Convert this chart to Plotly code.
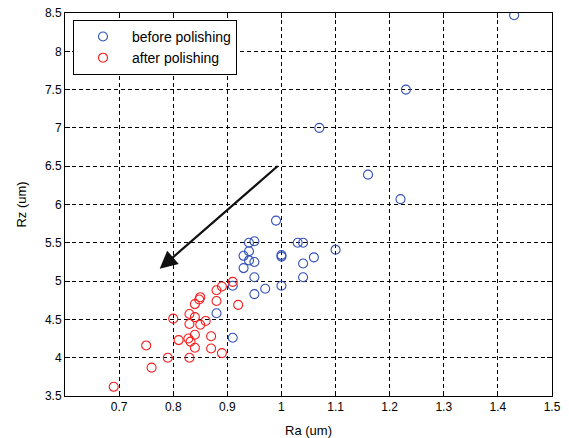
import plotly.graph_objects as go

before_ra = [1.43, 1.23, 1.07, 1.16, 1.22, 0.99, 0.94, 0.95, 0.94, 0.93, 0.94, 0.95, 0.93, 0.95,
             0.91, 0.95, 0.97, 1.00, 1.00, 1.00, 1.03, 1.04, 1.06, 1.04, 1.04, 1.10, 0.88, 0.91]
before_rz = [8.47, 7.50, 7.00, 6.39, 6.07, 5.79, 5.50, 5.52, 5.39, 5.33, 5.27, 5.25, 5.17, 5.05,
             4.94, 4.83, 4.90, 5.34, 5.32, 4.94, 5.50, 5.50, 5.31, 5.23, 5.05, 5.41, 4.58, 4.26]

after_ra = [0.69, 0.75, 0.76, 0.79, 0.80, 0.81, 0.83, 0.83, 0.828, 0.832, 0.83, 0.84, 0.85, 0.848,
            0.84, 0.84, 0.84, 0.85, 0.86, 0.87, 0.87, 0.88, 0.88, 0.89, 0.89, 0.92, 0.91]
after_rz = [3.62, 4.16, 3.87, 4.00, 4.51, 4.23, 4.57, 4.44, 4.25, 4.21, 4.00, 4.70, 4.79, 4.76,
            4.53, 4.30, 4.13, 4.43, 4.48, 4.28, 4.12, 4.88, 4.74, 4.93, 4.06, 4.69, 4.99]

x_ticks = [0.7, 0.8, 0.9, 1.0, 1.1, 1.2, 1.3, 1.4, 1.5]
x_tick_labels = ["0.7", "0.8", "0.9", "1", "1.1", "1.2", "1.3", "1.4", "1.5"]
y_ticks = [3.5, 4, 4.5, 5, 5.5, 6, 6.5, 7, 7.5, 8, 8.5]
y_tick_labels = ["3.5", "4", "4.5", "5", "5.5", "6", "6.5", "7", "7.5", "8", "8.5"]

arrow_tail = (0.996, 6.52)
arrow_head = (0.775, 5.16)

font_family = "Liberation Sans, Arial, sans-serif"

fig = go.Figure()
fig.add_trace(go.Scatter(
    x=before_ra, y=before_rz, mode="markers", name="before polishing",
    marker=dict(symbol="circle-open", size=9, color="rgb(50,80,185)", line=dict(width=1.1)),
))
fig.add_trace(go.Scatter(
    x=after_ra, y=after_rz, mode="markers", name="after polishing",
    marker=dict(symbol="circle-open", size=9, color="rgb(245,30,30)", line=dict(width=1.1)),
))

fig.add_annotation(
    x=arrow_head[0], y=arrow_head[1], ax=arrow_tail[0], ay=arrow_tail[1],
    xref="x", yref="y", axref="x", ayref="y",
    showarrow=True, arrowhead=2, arrowsize=1.6, arrowwidth=2.2, arrowcolor="#111111", text="",
)

axis_common = dict(
    showline=True, linecolor="black", linewidth=1, mirror="ticks",
    ticks="inside", ticklen=5, tickcolor="black",
    showgrid=True, gridcolor="black", gridwidth=1, griddash="4px,3px",
    zeroline=False, automargin=False,
    tickfont=dict(family=font_family, size=12, color="black"),
)

fig.update_layout(
    width=569, height=438,
    margin=dict(l=65, r=17, t=13, b=42),
    paper_bgcolor="white", plot_bgcolor="white",
    font=dict(family=font_family, size=12, color="black"),
    showlegend=True,
    legend=dict(
        x=0.0164, y=0.982, xanchor="left", yanchor="top",
        bgcolor="white", bordercolor="black", borderwidth=1,
        font=dict(family=font_family, size=14, color="black"),
        itemwidth=48,
    ),
    xaxis=dict(range=[0.6, 1.5], tickvals=x_ticks, ticktext=x_tick_labels,
               title=dict(text="Ra (um)", font=dict(size=13)), **axis_common),
    yaxis=dict(range=[3.5, 8.5], tickvals=y_ticks, ticktext=y_tick_labels,
               title=dict(text="Rz (um)", font=dict(size=13)), **axis_common),
)

fig.write_html("out.html", config={"displayModeBar": False},
               post_script="document.body.style.margin='0';")
